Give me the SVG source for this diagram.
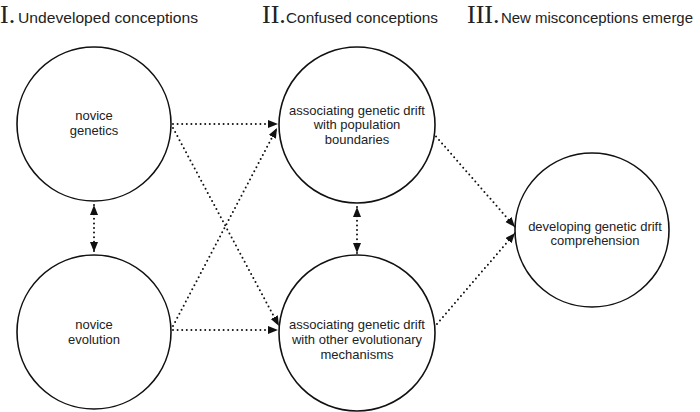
<svg xmlns="http://www.w3.org/2000/svg" width="700" height="412" viewBox="0 0 700 412">
<style>
.node circle{fill:#fff;stroke:#111;stroke-width:1.6}
.lbl{font-family:"Liberation Sans",Arial,sans-serif;font-size:13px;fill:#222;text-anchor:middle}
.num{font-family:"Liberation Serif","Times New Roman",serif;font-size:26px;fill:#222}
.hd{font-family:"Liberation Sans",Arial,sans-serif;font-size:15px;fill:#222}
.conn line{stroke:#111;stroke-width:2;stroke-linecap:round;stroke-dasharray:0 4.6;fill:none;marker-end:url(#ah)}
.conn line.both{marker-start:url(#ah)}
</style>
<defs>
<marker id="ah" markerUnits="userSpaceOnUse" markerWidth="11" markerHeight="9" refX="10" refY="4" orient="auto-start-reverse" viewBox="0 0 11 9">
<path d="M0,0 L10,4 L0,8 z" fill="#111"/>
</marker>
</defs>
<rect width="700" height="412" fill="#fff"/>
<g id="headers">
<text class="num" x="0" y="23">I.</text>
<text class="hd" x="18" y="23" textLength="180" lengthAdjust="spacingAndGlyphs">Undeveloped conceptions</text>
<text class="num" x="262" y="23">II.</text>
<text class="hd" x="286" y="23" textLength="152" lengthAdjust="spacingAndGlyphs">Confused conceptions</text>
<text class="num" x="467" y="23">III.</text>
<text class="hd" x="501" y="23" textLength="192" lengthAdjust="spacingAndGlyphs">New misconceptions emerge</text>
</g>
<g id="connectors" class="conn">
<line x1="173" y1="124" x2="278" y2="124"/>
<line x1="173" y1="330" x2="278" y2="330"/>
<line x1="173" y1="128" x2="279" y2="326"/>
<line x1="173" y1="326" x2="277" y2="128"/>
<line class="both" x1="94" y1="205" x2="94" y2="252"/>
<line class="both" x1="357" y1="207" x2="357" y2="253"/>
<line x1="433" y1="133" x2="515" y2="227"/>
<line x1="437" y1="324" x2="515" y2="233"/>
</g>
<g id="novice-genetics" class="node">
<circle cx="94" cy="124" r="77"/>
<text class="lbl" x="94" y="120">novice</text>
<text class="lbl" x="94" y="135">genetics</text>
</g>
<g id="novice-evolution" class="node">
<circle cx="94" cy="332" r="77"/>
<text class="lbl" x="94" y="329">novice</text>
<text class="lbl" x="94" y="344">evolution</text>
</g>
<g id="population-boundaries" class="node">
<circle cx="357" cy="125" r="78"/>
<text class="lbl" x="357" y="115">associating genetic drift</text>
<text class="lbl" x="357" y="129">with population</text>
<text class="lbl" x="357" y="144">boundaries</text>
</g>
<g id="other-mechanisms" class="node">
<circle cx="357" cy="333" r="78"/>
<text class="lbl" x="357" y="329">associating genetic drift</text>
<text class="lbl" x="357" y="344">with other evolutionary</text>
<text class="lbl" x="357" y="359">mechanisms</text>
</g>
<g id="developing-comprehension" class="node">
<circle cx="592" cy="230" r="77"/>
<text class="lbl" x="595" y="231">developing genetic drift</text>
<text class="lbl" x="595" y="245">comprehension</text>
</g>
</svg>
